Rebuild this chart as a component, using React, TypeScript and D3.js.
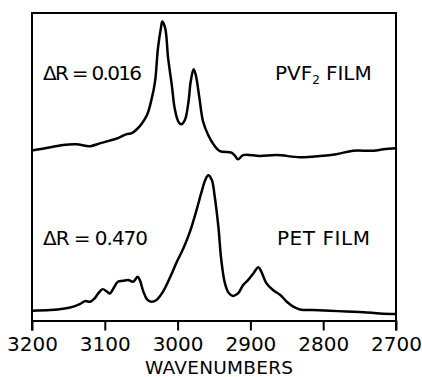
import React, { useEffect, useRef } from 'react';
import * as d3 from 'd3';

// spectrum values (arbitrary reflectance units, offset stacked)
const pvfWavenumbers = [3200, 3182, 3157, 3139, 3120, 3107, 3093, 3082, 3070, 3063, 3056, 3049, 3042, 3036, 3031, 3027, 3023, 3021, 3017, 3013, 3008, 3004, 2999, 2995, 2990, 2985, 2982, 2978, 2975, 2970, 2965, 2958, 2951, 2942, 2926, 2921, 2917, 2910, 2887, 2864, 2832, 2804, 2782, 2759, 2731, 2717, 2700];
const pvfSignal = [55.3, 56.0, 57.1, 57.3, 56.7, 57.6, 58.5, 59.3, 60.6, 60.9, 62.2, 64.1, 66.8, 71.7, 77.7, 88.5, 95.0, 97.2, 95.0, 85.3, 76.6, 69.0, 64.7, 63.8, 65.2, 71.2, 77.7, 81.7, 79.8, 72.3, 64.7, 60.3, 57.4, 55.1, 54.6, 53.5, 52.4, 53.8, 53.5, 53.8, 53.1, 53.5, 54.1, 55.2, 55.2, 55.7, 56.0];

const petWavenumbers = [3200, 3175, 3157, 3143, 3134, 3127, 3120, 3114, 3109, 3103, 3097, 3093, 3088, 3082, 3075, 3068, 3061, 3055, 3052, 3047, 3042, 3036, 3029, 3020, 3010, 3001, 2992, 2983, 2974, 2967, 2962, 2958, 2953, 2949, 2944, 2940, 2935, 2930, 2924, 2917, 2910, 2903, 2896, 2889, 2885, 2878, 2869, 2859, 2850, 2841, 2832, 2814, 2791, 2768, 2745, 2722, 2700];
const petSignal = [3.2, 3.4, 3.8, 4.5, 5.4, 6.3, 6.1, 7.2, 8.8, 10.2, 9.4, 8.8, 10.5, 12.6, 12.9, 13.2, 12.6, 14.2, 13.2, 9.4, 6.9, 6.1, 6.7, 9.4, 14.2, 19.1, 23.5, 28.9, 35.9, 41.9, 45.7, 47.2, 45.7, 40.3, 30.5, 19.7, 12.1, 9.0, 8.0, 8.8, 11.5, 13.2, 15.3, 17.3, 15.9, 12.1, 9.9, 8.3, 6.1, 4.5, 3.6, 3.4, 3.2, 2.9, 2.7, 2.3, 2.1];

const tickValues = [3200, 3100, 3000, 2900, 2800, 2700];
const axisTitle = 'WAVENUMBERS';
const pvfDelta = 'ΔR = 0.016';
const petDelta = 'ΔR = 0.470';

const FONT = '"DejaVu Sans", sans-serif';

const App = () => {
  const svgRef = useRef<SVGSVGElement>(null);

  useEffect(() => {
    const width = 422;
    const height = 377;

    d3.select(svgRef.current).selectAll('*').remove();

    const x = d3.scaleLinear().domain([3200, 2700]).range([32, 396]);
    const y = d3.scaleLinear().domain([0, 100]).range([320.5, 13]);

    const svg = d3.select(svgRef.current)
      .attr('width', width)
      .attr('height', height);

    svg.append('rect')
      .attr('width', width)
      .attr('height', height)
      .attr('fill', '#fff');

    // frame: top + two sides, sides run down to the tick ends
    const tickLen = 10;
    const yBottom = y(0);
    svg.append('path')
      .attr('d', `M${x(3200)},${yBottom + tickLen}V${y(100)}H${x(2700)}V${yBottom + tickLen}`)
      .attr('fill', 'none')
      .attr('stroke', '#000')
      .attr('stroke-width', 2);

    const axis = svg.append('g')
      .attr('transform', `translate(0,${yBottom})`)
      .call(
        d3.axisBottom(x)
          .tickValues(tickValues)
          .tickSize(tickLen)
          .tickSizeOuter(0)
          .tickPadding(6)
          .tickFormat(d3.format('d'))
      );
    axis.select('.domain').attr('stroke-width', 2);
    axis.selectAll('.tick line').attr('stroke-width', 2);
    axis.selectAll('.tick text')
      .attr('font-family', FONT)
      .attr('font-size', 20)
      .attr('fill', '#000');

    svg.append('text')
      .attr('x', 219)
      .attr('y', 374)
      .attr('text-anchor', 'middle')
      .attr('font-family', FONT)
      .attr('font-size', 18.5)
      .attr('textLength', 148)
      .text(axisTitle);

    const line = d3.line<[number, number]>()
      .x(d => x(d[0]))
      .y(d => y(d[1]))
      .curve(d3.curveCatmullRom.alpha(0.5));

    const spectra = [
      d3.zip(pvfWavenumbers, pvfSignal),
      d3.zip(petWavenumbers, petSignal)
    ];
    svg.selectAll('.spectrum')
      .data(spectra)
      .enter()
      .append('path')
      .attr('class', 'spectrum')
      .attr('d', d => line(d as [number, number][]))
      .attr('fill', 'none')
      .attr('stroke', '#000')
      .attr('stroke-width', 2.5)
      .attr('stroke-linejoin', 'round');

    // annotations
    const label = (tx: number, ty: number, str: string, len: number) =>
      svg.append('text')
        .attr('x', tx)
        .attr('y', ty)
        .attr('font-family', FONT)
        .attr('font-size', 20)
        .attr('textLength', len)
        .text(str);

    label(43, 80, pvfDelta, 99);
    label(43, 245, petDelta, 105);
    label(277, 245, 'PET FILM', 93);

    const pvf = svg.append('text')
      .attr('x', 275)
      .attr('y', 80)
      .attr('font-family', FONT)
      .attr('font-size', 20);
    pvf.append('tspan').text('PVF');
    pvf.append('tspan').attr('font-size', 12).attr('dy', 4).text('2');
    pvf.append('tspan').attr('dy', -4).attr('dx', 6).text('FILM');
  }, []);

  return (
    <div>
      <style>{'body{margin:0}'}</style>
      <svg ref={svgRef}></svg>
    </div>
  );
};

export default App;
